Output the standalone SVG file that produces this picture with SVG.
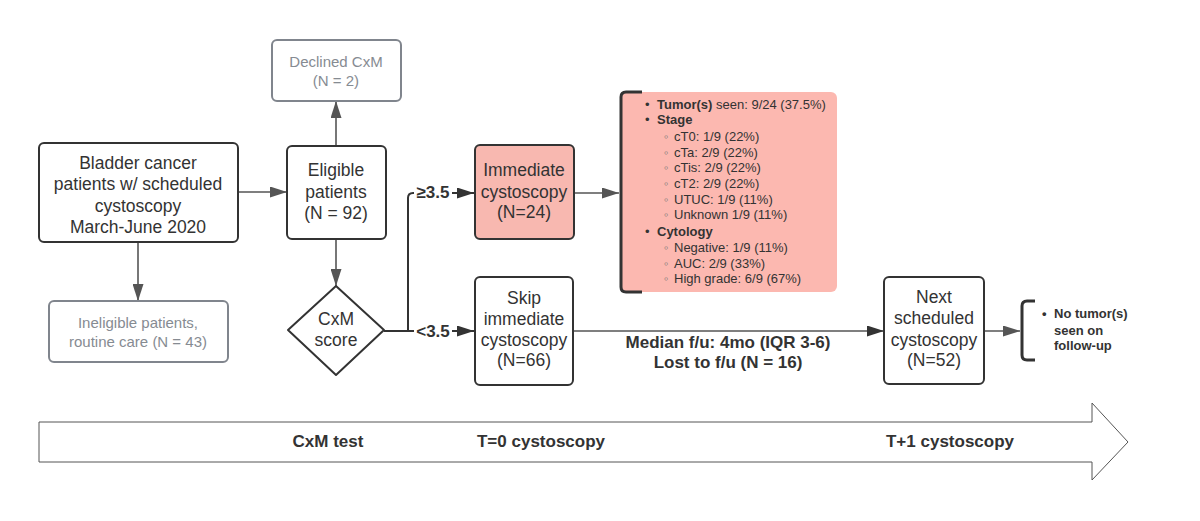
<svg xmlns="http://www.w3.org/2000/svg" width="1200" height="521" viewBox="0 0 1200 521">
<style>
.box{fill:#fff;stroke:#333;stroke-width:2}
.gbox{fill:#fff;stroke:#80858d;stroke-width:2}
.t{font-family:"Liberation Sans",Arial,sans-serif;font-size:17.5px;fill:#333;text-anchor:middle}
.g{font-family:"Liberation Sans",Arial,sans-serif;font-size:15px;fill:#868b92;text-anchor:middle}
.b{font-family:"Liberation Sans",Arial,sans-serif;font-size:17px;font-weight:bold;fill:#333;text-anchor:middle}
.s{font-family:"Liberation Sans",Arial,sans-serif;font-size:13px;fill:#333}
.sb{font-weight:bold}
.dot{fill:#777}
.c{fill:none;stroke:#555;stroke-width:1.6}
.cd{fill:none;stroke:#333;stroke-width:2}
.br{fill:none;stroke:#333;stroke-width:3}
</style>
<defs>
<marker id="ah" viewBox="0 0 17 11" refX="17" refY="5.5" markerWidth="17" markerHeight="11" markerUnits="userSpaceOnUse" orient="auto">
<path d="M0,0 L17,5.5 L0,11 z" fill="#555"/>
</marker>
<marker id="ahd" viewBox="0 0 17 11" refX="17" refY="5.5" markerWidth="17" markerHeight="11" markerUnits="userSpaceOnUse" orient="auto">
<path d="M0,0 L17,5.5 L0,11 z" fill="#333"/>
</marker>
</defs>
<rect width="1200" height="521" fill="#fff"/>

<g id="timeline">
<polygon points="39,422 1092,422 1092,403 1128,442 1092,480 1092,462 39,462" fill="#fff" stroke="#555" stroke-width="1"/>
<text class="b" x="328" y="447">CxM test</text>
<text class="b" x="541" y="447">T=0 cystoscopy</text>
<text class="b" x="950" y="447">T+1 cystoscopy</text>
</g>

<g id="connectors">
<line class="c" x1="238" y1="192" x2="287" y2="192" marker-end="url(#ah)"/>
<line class="c" x1="138" y1="242" x2="138" y2="301" marker-end="url(#ah)"/>
<line class="c" x1="336" y1="146" x2="336" y2="101" marker-end="url(#ah)"/>
<line class="c" x1="336" y1="239" x2="336" y2="286" marker-end="url(#ah)"/>
<path class="cd" d="M384,331 H408 M408,331 V198 Q408,193 413,193 H474" marker-end="url(#ahd)"/>
<line class="cd" x1="408" y1="331" x2="474" y2="331" marker-end="url(#ahd)"/>
<rect x="414" y="182" width="38" height="22" fill="#fff"/>
<text class="b" x="433" y="198">≥3.5</text>
<rect x="414" y="320" width="38" height="22" fill="#fff"/>
<text class="b" x="433" y="337">&lt;3.5</text>
<line class="c" x1="574" y1="193" x2="619" y2="193" marker-end="url(#ah)"/>
<line class="c" x1="573" y1="331" x2="884" y2="331" marker-end="url(#ahd)"/>
<text class="b" x="728" y="348">Median f/u: 4mo (IQR 3-6)</text>
<text class="b" x="728" y="368">Lost to f/u (N = 16)</text>
<line class="c" x1="985" y1="331" x2="1020" y2="331" marker-end="url(#ah)"/>
</g>

<g id="bladder">
<rect class="box" x="39" y="143" width="199" height="99" rx="5"/>
<text class="t" x="138" y="169">Bladder cancer</text>
<text class="t" x="138" y="190">patients w/ scheduled</text>
<text class="t" x="138" y="212">cystoscopy</text>
<text class="t" x="138" y="233">March-June 2020</text>
</g>

<g id="ineligible">
<rect class="gbox" x="49" y="301" width="179" height="61" rx="5"/>
<text class="g" x="138" y="328">Ineligible patients,</text>
<text class="g" x="138" y="347">routine care (N = 43)</text>
</g>

<g id="declined">
<rect class="gbox" x="272" y="40" width="129" height="61" rx="5"/>
<text class="g" x="336" y="67">Declined CxM</text>
<text class="g" x="336" y="86">(N = 2)</text>
</g>

<g id="eligible">
<rect class="box" x="287" y="146" width="99" height="93" rx="5"/>
<text class="t" x="336" y="176">Eligible</text>
<text class="t" x="336" y="198">patients</text>
<text class="t" x="336" y="219">(N = 92)</text>
</g>

<g id="cxm-score">
<path d="M336,286 L384,330 L336,375 L288,330 Z" fill="#fff" stroke="#333" stroke-width="2" stroke-linejoin="round"/>
<text class="t" x="336" y="325">CxM</text>
<text class="t" x="336" y="346">score</text>
</g>

<g id="immediate">
<rect x="475" y="145" width="99" height="94" rx="5" fill="#f8b8b0" stroke="#333" stroke-width="2"/>
<text class="t" x="524" y="176">Immediate</text>
<text class="t" x="524" y="198">cystoscopy</text>
<text class="t" x="524" y="218">(N=24)</text>
</g>

<g id="skip">
<rect class="box" x="475" y="277" width="98" height="108" rx="5"/>
<text class="t" x="524" y="304">Skip</text>
<text class="t" x="524" y="325">immediate</text>
<text class="t" x="524" y="346">cystoscopy</text>
<text class="t" x="524" y="366">(N=66)</text>
</g>

<g id="results">
<rect x="621" y="92" width="216" height="200" rx="6" fill="#fcb8b0"/>
<path class="br" d="M642,92 H626 Q621,92 621,97 V287 Q621,292 626,292 H642"/>
<g class="s">
<text x="645" y="108.5">•</text><text x="657" y="108.5"><tspan class="sb">Tumor(s)</tspan> seen: 9/24 (37.5%)</text>
<text x="645" y="123.5">•</text><text x="657" y="123.5" class="sb">Stage</text>
<text x="664" y="140.5" class="dot">◦</text><text x="674" y="140.5">cT0: 1/9 (22%)</text>
<text x="664" y="156.5" class="dot">◦</text><text x="674" y="156.5">cTa: 2/9 (22%)</text>
<text x="664" y="171.5" class="dot">◦</text><text x="674" y="171.5">cTis: 2/9 (22%)</text>
<text x="664" y="187.5" class="dot">◦</text><text x="674" y="187.5">cT2: 2/9 (22%)</text>
<text x="664" y="203.5" class="dot">◦</text><text x="674" y="203.5">UTUC: 1/9 (11%)</text>
<text x="664" y="218.5" class="dot">◦</text><text x="674" y="218.5">Unknown 1/9 (11%)</text>
<text x="645" y="235.5">•</text><text x="657" y="235.5" class="sb">Cytology</text>
<text x="664" y="251.5" class="dot">◦</text><text x="674" y="251.5">Negative: 1/9 (11%)</text>
<text x="664" y="267.5" class="dot">◦</text><text x="674" y="267.5">AUC: 2/9 (33%)</text>
<text x="664" y="282.5" class="dot">◦</text><text x="674" y="282.5">High grade: 6/9 (67%)</text>
</g>
</g>

<g id="next">
<rect class="box" x="884" y="277" width="100" height="107" rx="5"/>
<text class="t" x="934" y="303">Next</text>
<text class="t" x="934" y="324">scheduled</text>
<text class="t" x="934" y="346">cystoscopy</text>
<text class="t" x="934" y="366">(N=52)</text>
</g>

<g id="followup">
<path class="br" d="M1035,301 H1027 Q1022,301 1022,306 V355 Q1022,360 1027,360 H1035"/>
<g class="s sb">
<text x="1042" y="317.5">•</text>
<text x="1054" y="317.5">No tumor(s)</text>
<text x="1054" y="334.5">seen on</text>
<text x="1054" y="349.5">follow-up</text>
</g>
</g>
</svg>
